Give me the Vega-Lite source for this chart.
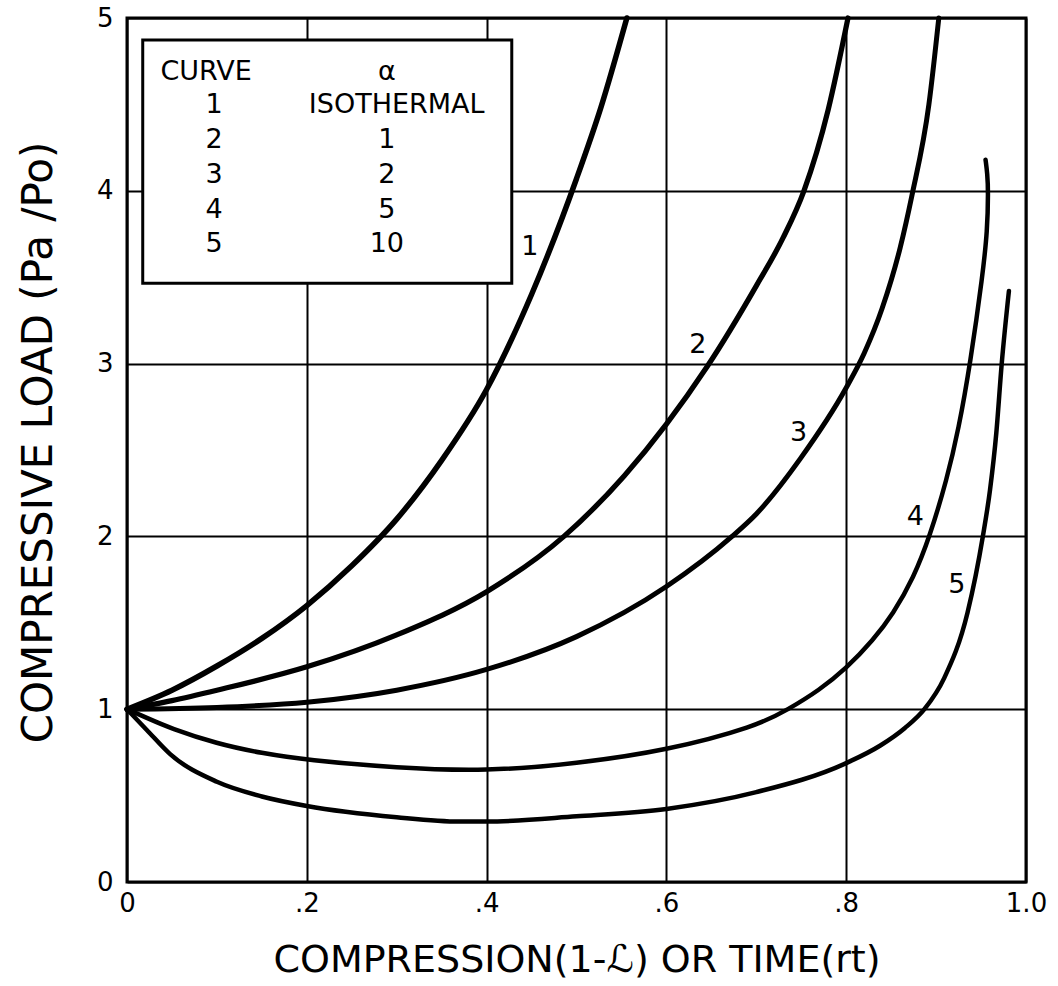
{
  "$schema": "https://vega.github.io/schema/vega-lite/v6.json",
  "width": 899,
  "height": 864,
  "autosize": {"type": "none"},
  "padding": {"left": 127, "top": 18, "right": 32, "bottom": 104},
  "background": "white",
  "config": {
    "view": {"stroke": "black", "strokeWidth": 3},
    "axis": {
      "domain": false,
      "ticks": false,
      "grid": true,
      "gridColor": "black",
      "gridWidth": 2,
      "gridOpacity": 1,
      "labelFont": "DejaVu Sans",
      "labelFontSize": 26,
      "labelColor": "black",
      "titleFont": "DejaVu Sans",
      "titleFontSize": 38,
      "titleFontWeight": "normal",
      "titleColor": "black",
      "labelFlush": false,
      "labelOverlap": false
    },
    "text": {"font": "DejaVu Sans", "color": "black"}
  },
  "datasets": {
    "box": [{"x": 0.0175, "x2": 0.428, "y": 3.465, "y2": 4.873}],
    "curves": [
      {"curve": 1, "x": 0, "y": 1}, {"curve": 1, "x": 0.05, "y": 1.11}, {"curve": 1, "x": 0.1, "y": 1.25}, {"curve": 1, "x": 0.15, "y": 1.41}, {"curve": 1, "x": 0.2, "y": 1.6}, {"curve": 1, "x": 0.25, "y": 1.83}, {"curve": 1, "x": 0.3, "y": 2.1}, {"curve": 1, "x": 0.35, "y": 2.44}, {"curve": 1, "x": 0.4, "y": 2.85}, {"curve": 1, "x": 0.45, "y": 3.4}, {"curve": 1, "x": 0.5, "y": 4.07}, {"curve": 1, "x": 0.527, "y": 4.48}, {"curve": 1, "x": 0.556, "y": 5.0},
      {"curve": 2, "x": 0, "y": 1}, {"curve": 2, "x": 0.05, "y": 1.05}, {"curve": 2, "x": 0.1, "y": 1.11}, {"curve": 2, "x": 0.2, "y": 1.245}, {"curve": 2, "x": 0.3, "y": 1.43}, {"curve": 2, "x": 0.4, "y": 1.68}, {"curve": 2, "x": 0.486, "y": 2.0}, {"curve": 2, "x": 0.553, "y": 2.35}, {"curve": 2, "x": 0.6, "y": 2.65}, {"curve": 2, "x": 0.645, "y": 2.98}, {"curve": 2, "x": 0.7, "y": 3.45}, {"curve": 2, "x": 0.73, "y": 3.73}, {"curve": 2, "x": 0.753, "y": 4.0}, {"curve": 2, "x": 0.78, "y": 4.47}, {"curve": 2, "x": 0.802, "y": 5.0},
      {"curve": 3, "x": 0, "y": 1}, {"curve": 3, "x": 0.1, "y": 1.01}, {"curve": 3, "x": 0.2, "y": 1.04}, {"curve": 3, "x": 0.3, "y": 1.11}, {"curve": 3, "x": 0.4, "y": 1.23}, {"curve": 3, "x": 0.5, "y": 1.42}, {"curve": 3, "x": 0.6, "y": 1.71}, {"curve": 3, "x": 0.673, "y": 2.0}, {"curve": 3, "x": 0.7, "y": 2.13}, {"curve": 3, "x": 0.749, "y": 2.45}, {"curve": 3, "x": 0.8, "y": 2.86}, {"curve": 3, "x": 0.82, "y": 3.06}, {"curve": 3, "x": 0.84, "y": 3.32}, {"curve": 3, "x": 0.86, "y": 3.67}, {"curve": 3, "x": 0.873, "y": 3.97}, {"curve": 3, "x": 0.892, "y": 4.5}, {"curve": 3, "x": 0.903, "y": 5.0},
      {"curve": 4, "x": 0, "y": 1}, {"curve": 4, "x": 0.022, "y": 0.95}, {"curve": 4, "x": 0.048, "y": 0.89}, {"curve": 4, "x": 0.1, "y": 0.8}, {"curve": 4, "x": 0.15, "y": 0.745}, {"curve": 4, "x": 0.2, "y": 0.706}, {"curve": 4, "x": 0.3, "y": 0.66}, {"curve": 4, "x": 0.4, "y": 0.64}, {"curve": 4, "x": 0.5, "y": 0.685}, {"curve": 4, "x": 0.6, "y": 0.76}, {"curve": 4, "x": 0.7, "y": 0.9}, {"curve": 4, "x": 0.736, "y": 1.0}, {"curve": 4, "x": 0.77, "y": 1.11}, {"curve": 4, "x": 0.8, "y": 1.235}, {"curve": 4, "x": 0.83, "y": 1.4}, {"curve": 4, "x": 0.852, "y": 1.55}, {"curve": 4, "x": 0.875, "y": 1.76}, {"curve": 4, "x": 0.893, "y": 2.0}, {"curve": 4, "x": 0.912, "y": 2.33}, {"curve": 4, "x": 0.925, "y": 2.62}, {"curve": 4, "x": 0.938, "y": 3.0}, {"curve": 4, "x": 0.952, "y": 3.52}, {"curve": 4, "x": 0.957, "y": 3.77}, {"curve": 4, "x": 0.958, "y": 4.0}, {"curve": 4, "x": 0.957, "y": 4.1}, {"curve": 4, "x": 0.955, "y": 4.18},
      {"curve": 5, "x": 0, "y": 1}, {"curve": 5, "x": 0.022, "y": 0.88}, {"curve": 5, "x": 0.048, "y": 0.74}, {"curve": 5, "x": 0.1, "y": 0.58}, {"curve": 5, "x": 0.15, "y": 0.495}, {"curve": 5, "x": 0.2, "y": 0.44}, {"curve": 5, "x": 0.3, "y": 0.375}, {"curve": 5, "x": 0.37, "y": 0.35}, {"curve": 5, "x": 0.4, "y": 0.35}, {"curve": 5, "x": 0.5, "y": 0.38}, {"curve": 5, "x": 0.6, "y": 0.423}, {"curve": 5, "x": 0.7, "y": 0.52}, {"curve": 5, "x": 0.8, "y": 0.688}, {"curve": 5, "x": 0.838, "y": 0.79}, {"curve": 5, "x": 0.865, "y": 0.89}, {"curve": 5, "x": 0.887, "y": 1.0}, {"curve": 5, "x": 0.909, "y": 1.18}, {"curve": 5, "x": 0.935, "y": 1.56}, {"curve": 5, "x": 0.952, "y": 2.0}, {"curve": 5, "x": 0.96, "y": 2.27}, {"curve": 5, "x": 0.967, "y": 2.6}, {"curve": 5, "x": 0.973, "y": 3.0}, {"curve": 5, "x": 0.981, "y": 3.42}
    ],
    "curveLabels": [
      {"x": 0.448, "y": 3.676, "t": "1"},
      {"x": 0.635, "y": 3.108, "t": "2"},
      {"x": 0.747, "y": 2.597, "t": "3"},
      {"x": 0.877, "y": 2.114, "t": "4"},
      {"x": 0.923, "y": 1.719, "t": "5"}
    ],
    "legendText": [
      {"x": 0.088, "y": 4.64, "t": "CURVE"},
      {"x": 0.289, "y": 4.64, "t": "α"},
      {"x": 0.097, "y": 4.45, "t": "1"},
      {"x": 0.3, "y": 4.45, "t": "ISOTHERMAL"},
      {"x": 0.097, "y": 4.246, "t": "2"},
      {"x": 0.289, "y": 4.246, "t": "1"},
      {"x": 0.097, "y": 4.043, "t": "3"},
      {"x": 0.289, "y": 4.043, "t": "2"},
      {"x": 0.097, "y": 3.841, "t": "4"},
      {"x": 0.289, "y": 3.841, "t": "5"},
      {"x": 0.097, "y": 3.648, "t": "5"},
      {"x": 0.289, "y": 3.648, "t": "10"}
    ]
  },
  "layer": [
    {
      "data": {"name": "box"},
      "mark": {"type": "rect", "fill": "white", "stroke": "black", "strokeWidth": 3},
      "encoding": {
        "x": {
          "field": "x", "type": "quantitative",
          "scale": {"domain": [0, 1], "nice": false, "zero": false},
          "axis": {
            "values": [0, 0.2, 0.4, 0.6, 0.8, 1],
            "labelExpr": "datum.value == 0 ? '0' : datum.value == 1 ? '1.0' : replace(format(datum.value, '.1f'), '0.', '.')",
            "title": "COMPRESSION(1-ℒ) OR TIME(rt)",
            "labelPadding": 8,
            "titleX": 449.5,
            "titleY": 78,
            "titleBaseline": "middle",
            "titleAlign": "center"
          }
        },
        "x2": {"field": "x2"},
        "y": {
          "field": "y", "type": "quantitative",
          "scale": {"domain": [0, 5], "nice": false, "zero": false},
          "axis": {
            "values": [0, 1, 2, 3, 4, 5],
            "format": "d",
            "title": "COMPRESSIVE LOAD (Pa /Po)",
            "titleFontSize": 42,
            "labelPadding": 14,
            "titleX": -89,
            "titleY": 424,
            "titleAngle": -90,
            "titleBaseline": "middle",
            "titleAlign": "center"
          }
        },
        "y2": {"field": "y2"}
      }
    },
    {
      "data": {"name": "curves"},
      "transform": [{"filter": "datum.curve != 4"}],
      "mark": {"type": "line", "interpolate": "monotone", "color": "black", "strokeCap": "round", "strokeJoin": "round"},
      "encoding": {
        "x": {"field": "x", "type": "quantitative"},
        "y": {"field": "y", "type": "quantitative"},
        "detail": {"field": "curve", "type": "nominal"},
        "strokeWidth": {"field": "curve", "type": "ordinal", "scale": {"domain": [1, 2, 3, 4, 5], "range": [5.5, 4.5, 4.5, 4.5, 4.5]}, "legend": null}
      }
    },
    {
      "data": {"name": "curves"},
      "transform": [{"filter": "datum.curve == 4"}],
      "mark": {"type": "line", "interpolate": "basis", "color": "black", "strokeCap": "round", "strokeJoin": "round", "strokeWidth": 4.5},
      "encoding": {
        "x": {"field": "x", "type": "quantitative"},
        "y": {"field": "y", "type": "quantitative"},
        "order": {"value": null}
      }
    },
    {
      "data": {"name": "curveLabels"},
      "mark": {"type": "text", "fontSize": 27, "align": "center", "baseline": "middle"},
      "encoding": {
        "x": {"field": "x", "type": "quantitative"},
        "y": {"field": "y", "type": "quantitative"},
        "text": {"field": "t", "type": "nominal"}
      }
    },
    {
      "data": {"name": "legendText"},
      "mark": {"type": "text", "fontSize": 27, "align": "center", "baseline": "alphabetic"},
      "encoding": {
        "x": {"field": "x", "type": "quantitative"},
        "y": {"field": "y", "type": "quantitative"},
        "text": {"field": "t", "type": "nominal"}
      }
    }
  ]
}
